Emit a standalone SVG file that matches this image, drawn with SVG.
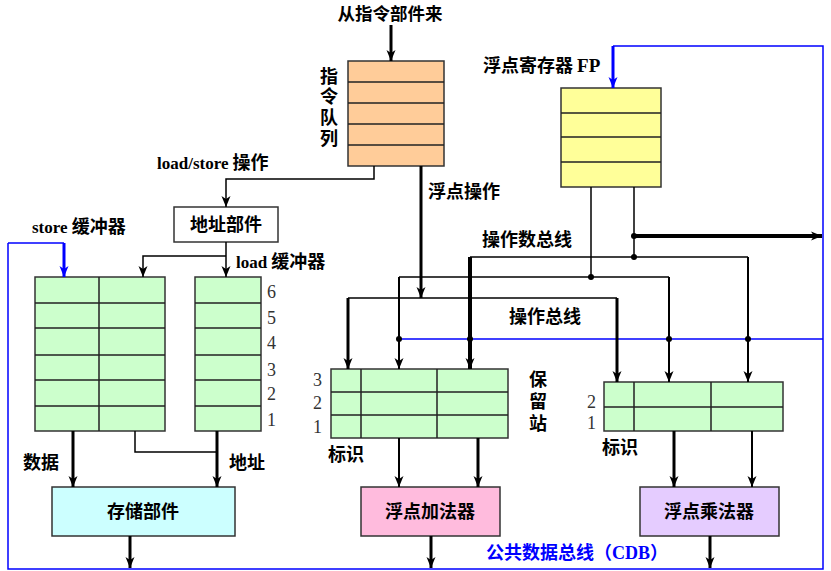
<svg xmlns="http://www.w3.org/2000/svg" width="831" height="571" viewBox="0 0 831 571">
<defs>
<marker id="a" viewBox="-12 -6 13 12" refX="0" refY="0" markerWidth="13" markerHeight="12" markerUnits="userSpaceOnUse" orient="auto"><path d="M0,0 L-11,-4.5 L-8,0 L-11,4.5 Z" fill="#000"/></marker>
<marker id="b" viewBox="-12 -6 13 12" refX="0" refY="0" markerWidth="13" markerHeight="12" markerUnits="userSpaceOnUse" orient="auto"><path d="M0,0 L-11,-4.5 L-8,0 L-11,4.5 Z" fill="#0000FF"/></marker>
</defs>
<style>
.box{stroke:#333;stroke-width:1.5}
.sep{stroke:#222;stroke-width:1.5;fill:none}
.t{font-family:"Noto Sans CJK SC","Noto Sans CJK TC",sans-serif;font-weight:bold;font-size:18px;fill:#000}
.v{writing-mode:vertical-rl}
.l{font-family:"Liberation Serif",serif;font-weight:bold;font-size:17px}
.n{font-family:"Liberation Serif",serif;font-size:18px;fill:#333}
.w{fill:none;stroke:#000}
.thin{stroke-width:1.5}
.med{stroke-width:2}
.thk{stroke-width:3}
.thk4{stroke-width:4}
.blue{fill:none;stroke:#0000FF;stroke-width:1.5}
.arr{marker-end:url(#a)}
.barr{marker-end:url(#b)}
.dot{fill:#000}
</style>

<g id="labels">
<text class="t" x="390" y="20" text-anchor="middle" style="font-size:17.5px">从指令部件来</text>
<text class="t" x="483" y="72">浮点寄存器 <tspan class="l" style="font-size:19px">FP</tspan></text>
<text class="t" x="157" y="169"><tspan class="l">load/store</tspan> 操作</text>
<text class="t" x="32" y="233"><tspan class="l">store</tspan> 缓冲器</text>
<text class="t" x="236" y="268"><tspan class="l">load</tspan> 缓冲器</text>
<text class="t" x="428" y="198">浮点操作</text>
<text class="t" x="482" y="246">操作数总线</text>
<text class="t" x="509" y="323">操作总线</text>
<text class="t" x="23" y="469">数据</text>
<text class="t" x="229" y="469">地址</text>
<text class="t" x="486" y="559" style="fill:#0000FF">公共数据总线（<tspan class="l" style="font-size:18px">CDB</tspan>）</text>
</g>

<g id="instr-queue">
<rect class="box" x="348" y="61" width="96" height="105" fill="#FFCC99"/>
<path class="sep" d="M348,82H444M348,103H444M348,124H444M348,145H444"/>
<text class="t v" x="329" y="67" style="letter-spacing:2.6px">指令队列</text>
</g>

<g id="fp-regs">
<rect class="box" x="561" y="88" width="100" height="99" fill="#FFFF99"/>
<path class="sep" d="M561,113H661M561,137H661M561,162H661"/>
</g>

<g id="addr-unit">
<rect class="box" x="174" y="207" width="104" height="35" fill="#FFFFFF"/>
<text class="t" x="226" y="231" text-anchor="middle">地址部件</text>
</g>

<g id="store-buffer">
<rect class="box" x="35" y="277" width="130" height="154" fill="#CCFFCC"/>
<path class="sep" d="M99,277V431M35,303H165M35,328H165M35,355H165M35,380H165M35,406H165"/>
</g>

<g id="load-buffer">
<rect class="box" x="195" y="277" width="66" height="154" fill="#CCFFCC"/>
<path class="sep" d="M195,303H261M195,328H261M195,355H261M195,380H261M195,406H261"/>
<text class="n" x="267" y="298">6</text>
<text class="n" x="267" y="324">5</text>
<text class="n" x="267" y="349">4</text>
<text class="n" x="267" y="376">3</text>
<text class="n" x="267" y="400">2</text>
<text class="n" x="267" y="426">1</text>
</g>

<g id="adder-rs">
<rect class="box" x="331" y="369" width="177" height="69" fill="#CCFFCC"/>
<path class="sep" d="M331,392H508M331,415H508M361,369V438M437,369V438"/>
<text class="n" x="313" y="386">3</text>
<text class="n" x="313" y="409">2</text>
<text class="n" x="313" y="433">1</text>
<text class="t v" x="538" y="370" style="letter-spacing:4px">保留站</text>
<text class="t" x="328" y="461">标识</text>
</g>

<g id="mult-rs">
<rect class="box" x="604" y="382" width="179" height="49" fill="#CCFFCC"/>
<path class="sep" d="M604,407H783M634,382V431M711,382V431"/>
<text class="n" x="587" y="408">2</text>
<text class="n" x="587" y="429">1</text>
<text class="t" x="602" y="454">标识</text>
</g>

<g id="memory-unit">
<rect class="box" x="52" y="487" width="183" height="49" fill="#CCFFFF"/>
<text class="t" x="143" y="518" text-anchor="middle">存储部件</text>
</g>

<g id="fp-adder">
<rect class="box" x="361" y="487" width="139" height="49" fill="#FFBBDD"/>
<text class="t" x="430" y="518" text-anchor="middle">浮点加法器</text>
</g>

<g id="fp-mult">
<rect class="box" x="640" y="487" width="139" height="49" fill="#E5CCFF"/>
<text class="t" x="709" y="518" text-anchor="middle">浮点乘法器</text>
</g>

<g id="connectors">
<path class="blue" d="M8,243V569H823V46H613"/>
<path class="blue" d="M8,243H64"/>
<path class="blue" d="M399,339H823"/>
<path class="blue barr" style="stroke-width:3" d="M64,243V277"/>
<path class="blue barr" style="stroke-width:3" d="M613,46V88"/>

<path class="w thk arr" d="M391,25V61"/>
<path class="w thin arr" d="M374,166V179H226V207"/>
<path class="w thin arr" d="M226,242V277"/>
<path class="w thin arr" d="M226,256H143V277"/>
<path class="w thk arr" d="M421,166V298"/>

<path class="w thin" d="M348,298H617"/>
<path class="w thk arr" d="M348,298V369"/>
<path class="w thk arr" d="M617,298V382"/>

<path class="w thin" d="M591,187V277"/>
<path class="w thin" d="M399,277H669"/>
<path class="w med arr" d="M399,277V369"/>
<path class="w med arr" d="M669,277V382"/>
<path class="w thin" d="M634,187V257"/>
<path class="w thin" d="M470,257H748"/>
<path class="w thk4 arr" d="M470,257V369"/>
<path class="w med arr" d="M748,257V382"/>
<path class="w thk4 arr" d="M634,236H822"/>

<circle class="dot" cx="591" cy="277" r="3"/>
<circle class="dot" cx="634" cy="257" r="3"/>
<circle class="dot" cx="634" cy="236" r="3"/>
<circle class="dot" cx="399" cy="339" r="3"/>
<circle class="dot" cx="470" cy="339" r="3"/>
<circle class="dot" cx="669" cy="339" r="3"/>
<circle class="dot" cx="748" cy="339" r="3"/>

<path class="w thk arr" d="M73,431V487"/>
<path class="w thin" d="M135,431V452H217"/>
<path class="w thk arr" d="M217,431V487"/>

<path class="w med arr" d="M399,438V487"/>
<path class="w thk arr" d="M478,438V487"/>
<path class="w thk arr" d="M674,431V487"/>
<path class="w med arr" d="M752,431V487"/>

<path class="w thk arr" d="M130,536V568"/>
<path class="w thk arr" d="M431,536V568"/>
<path class="w thk arr" d="M710,536V568"/>
</g>
</svg>
